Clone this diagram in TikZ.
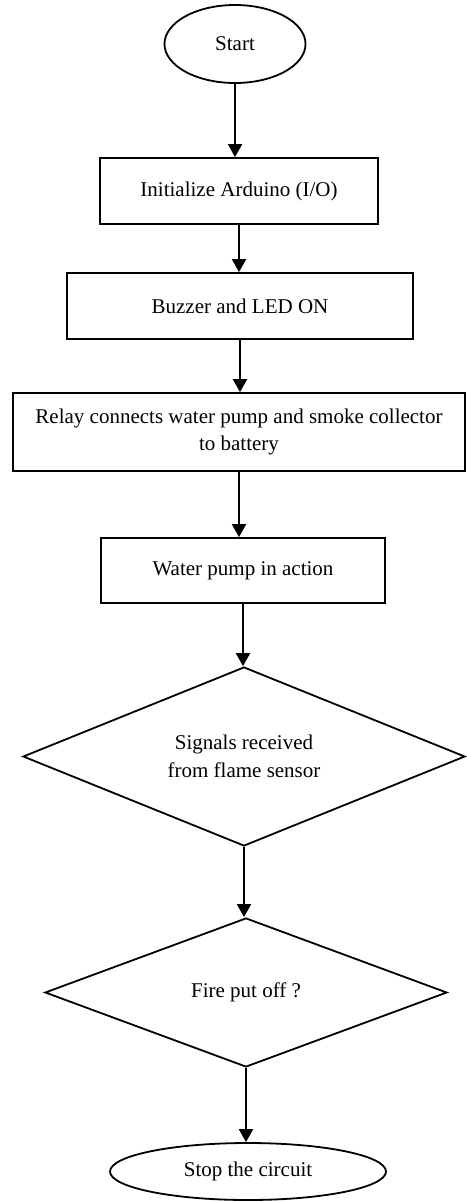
\documentclass[tikz,border=0pt]{standalone}
\usepackage{fontspec}
\setmainfont{Liberation Serif}
\usetikzlibrary{shapes.geometric,arrows.meta}

\begin{document}
\begin{tikzpicture}[
    x=1pt, y=-1pt,
    every node/.style={font=\fontsize{21}{27.5}\selectfont, inner sep=0pt, line width=1.8pt},
    term/.style={draw, ellipse},
    procbox/.style={draw, rectangle, align=center},
    decide/.style={draw, diamond, align=center, shape aspect=2.5},
    flow/.style={draw, line width=2pt, -{Triangle[length=13pt,width=14pt]}}
]
\useasboundingbox (0,0) rectangle (466,1202);

% terminals, process steps and decisions
\node[term, minimum width=141pt, minimum height=78pt] (start) at (235,44) {Start};
\node[procbox, minimum width=278pt, minimum height=66pt] (init) at (239,191) {Initialize Arduino (I/O)};
\node[procbox, minimum width=346pt, minimum height=66pt] (buzz) at (240,306) {Buzzer and LED ON};
\node[procbox, minimum width=452pt, minimum height=78pt] (relay) at (239,432) {Relay connects water pump and smoke collector\\to battery};
\node[procbox, minimum width=284pt, minimum height=65pt] (pump) at (243,570.5) {Water pump in action};
\node[decide, minimum width=442pt, minimum height=179pt] (sig) at (244,756.5) {Signals received\\from flame sensor};
\node[decide, minimum width=402pt, minimum height=149pt] (fire) at (246,992.5) {Fire put off ?};
\node[term, minimum width=276pt, minimum height=57pt] (stop) at (248,1171.5) {Stop the circuit};

% connectors
\draw[flow] (start.south) -- (start.south |- init.north);
\draw[flow] (init.south) -- (init.south |- buzz.north);
\draw[flow] (buzz.south) -- (buzz.south |- relay.north);
\draw[flow] (relay.south) -- (relay.south |- pump.north);
\draw[flow] (pump.south) -- (pump.south |- sig.north);
\draw[flow] (sig.south) -- (sig.south |- fire.north);
\draw[flow] (fire.south) -- (fire.south |- stop.north);
\end{tikzpicture}
\end{document}
